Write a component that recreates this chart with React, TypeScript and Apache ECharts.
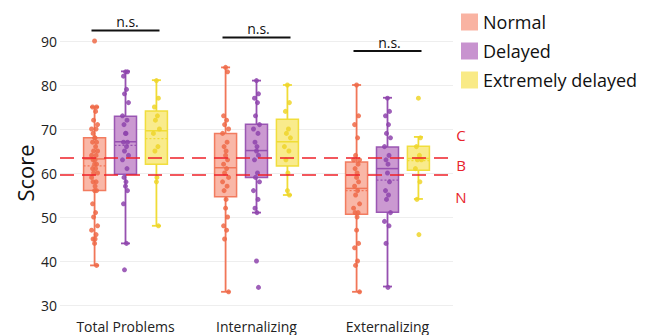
import React, { useEffect, useRef } from "react";
import * as echarts from "echarts";

const categories = ["Total Problems", "Internalizing", "Externalizing"];
const groups = ["Normal", "Delayed", "Extremely delayed"];

// per category: [min, Q1, median, Q3, max, mean]
const normalBox = [
  [39, 56, 63.2, 68, 75, 61.6],
  [33, 54.6, 61.2, 69, 84, null],
  [33, 50.6, 56.5, 62.5, 80, 56],
];
const delayedBox = [
  [44, 59.7, 67.1, 72.9, 83.1, 66.3],
  [51, 59, 65.1, 71.1, 81, null],
  [34.2, 51.1, 61, 65.9, 77.1, 58.4],
];
const extremeBox = [
  [48, 62, 69.6, 74.1, 81.1, 67.8],
  [55, 61.6, 67.1, 72.2, 80, null],
  [54.1, 60.6, 63.3, 66.1, 68.2, 62.8],
];

const normalPts = [
  [90, 75, 75, 74, 72, 71, 70, 70, 69, 68, 68, 67, 67, 66, 65, 65, 64, 64, 63, 63, 62, 62, 61, 61, 60, 60, 59, 58, 58, 57, 56, 56, 53, 51, 50, 48, 47, 46, 45, 45, 44, 39],
  [84, 83, 73, 72, 71, 70, 69, 67, 66, 65, 64, 63, 62, 61, 60, 59, 58, 57, 56, 54, 52, 50, 48, 47, 45, 33],
  [80, 73, 71, 68, 64, 63, 63, 62, 61, 60, 59, 58, 57, 56, 55, 53, 52, 51, 51, 50, 47, 44, 43, 40, 39, 33],
];
const delayedPts = [
  [83, 83, 82, 79, 78, 76, 73, 72, 71, 69, 69, 67, 67, 66, 65, 64, 63, 61, 59, 58, 57, 56, 53, 44, 38],
  [81, 78, 77, 76, 73, 71, 70, 69, 67, 66, 65, 64, 63, 60, 59, 58, 56, 54, 52, 51, 40, 34],
  [77, 74, 73, 71, 69, 68, 66, 64, 63, 62, 60, 58, 56, 55, 54, 51, 49, 48, 44, 34],
];
const extremePts = [
  [81, 77, 75, 73, 72, 70, 69, 66, 65, 59, 58, 48],
  [80, 76, 74, 70, 69, 68, 66, 65, 63, 60, 56, 55],
  [77, 68, 66, 64, 63, 63, 61, 58, 54, 46],
];

const yTicks = [30, 40, 50, 60, 70, 80, 90];
const cutoffs = [63.5, 59.5];
const cutoffLabels = [
  { text: "C", value: 68.6 },
  { text: "B", value: 61.8 },
  { text: "N", value: 54.5 },
];
const nsLevels = [92.4, 90.8, 87.7];

const jitterPx = [0, 2, -2, 1, -1, 3, -3, 1.5, -1.5, 0.5];

const strokes = ["#f17658", "#9650b0", "#f0dc36"];
const fills = ["#f9b3a2", "#c893cf", "#f9ea86"];
const ptColors = ["#ee6a48", "#8e44ad", "#eed52a"];

const GROUP_OFF = [-0.236, 0, 0.236];
const BOX_W = 0.168;
const PX = 1 / 131;

const FONT = "'Open Sans', 'Noto Sans', sans-serif";

export default function App() {
  const ref = useRef<HTMLDivElement>(null);
  useEffect(() => {
    if (!ref.current) return;
    const chart = echarts.init(ref.current, undefined, { renderer: "svg" });
    const boxes = [normalBox, delayedBox, extremeBox];
    const pts = [normalPts, delayedPts, extremePts];

    const boxSeries = groups.map((g, gi) => ({
      name: g,
      type: "custom",
      z: 2,
      itemStyle: { color: fills[gi] },
      encode: { x: 0, y: [1, 2, 3, 4, 5] },
      data: boxes[gi].map((b, ci) => [ci + 0.5 + GROUP_OFF[gi], ...b.map((v) => (v == null ? NaN : v))]),
      renderItem: (params: any, api: any) => {
        const x = api.value(0);
        const c = (v: number) => api.coord([x, v]);
        const w = api.size([BOX_W, 0])[0];
        const cx = c(api.value(3))[0];
        const yMin = c(api.value(1))[1];
        const yQ1 = c(api.value(2))[1];
        const yMed = c(api.value(3))[1];
        const yQ3 = c(api.value(4))[1];
        const yMax = c(api.value(5))[1];
        const mean = api.value(6);
        const st = { stroke: strokes[gi], lineWidth: 1.8 };
        const cap = 4.5;
        const children: any[] = [
          { type: "line", shape: { x1: cx, y1: yQ3, x2: cx, y2: yMax }, style: st },
          { type: "line", shape: { x1: cx, y1: yQ1, x2: cx, y2: yMin }, style: st },
          { type: "line", shape: { x1: cx - cap, y1: yMax, x2: cx + cap, y2: yMax }, style: st },
          { type: "line", shape: { x1: cx - cap, y1: yMin, x2: cx + cap, y2: yMin }, style: st },
          {
            type: "rect",
            shape: { x: cx - w / 2, y: yQ3, width: w, height: yQ1 - yQ3 },
            style: { fill: fills[gi], stroke: strokes[gi], lineWidth: 1.5, opacity: 0.95 },
          },
          { type: "line", shape: { x1: cx - w / 2, y1: yMed, x2: cx + w / 2, y2: yMed }, style: { stroke: strokes[gi], lineWidth: 1.5 } },
        ];
        if (!isNaN(mean)) {
          const yMean = c(mean)[1];
          children.push({
            type: "line",
            shape: { x1: cx - w / 2, y1: yMean, x2: cx + w / 2, y2: yMean },
            style: { stroke: strokes[gi], lineWidth: 1.2, lineDash: [2, 2] },
          });
        }
        return { type: "group", children };
      },
    }));

    const ptSeries = groups.map((g, gi) => ({
      name: g + " points",
      type: "scatter",
      z: 3,
      symbolSize: 5,
      itemStyle: { color: ptColors[gi], opacity: 0.85 },
      data: pts[gi].flatMap((list, ci) =>
        list.map((v, i) => [ci + 0.5 + GROUP_OFF[gi] + jitterPx[i % jitterPx.length] * PX, v])
      ),
    }));

    const nsSeries = {
      name: "ns",
      type: "custom",
      z: 10,
      clip: false,
      data: nsLevels.map((v, ci) => [ci + 0.5, v]),
      renderItem: (params: any, api: any) => {
        const p = api.coord([api.value(0), api.value(1)]);
        const hw = 34;
        return {
          type: "group",
          children: [
            { type: "line", shape: { x1: p[0] - hw, y1: p[1], x2: p[0] + hw, y2: p[1] }, style: { stroke: "#111", lineWidth: 2 } },
            {
              type: "text",
              x: p[0] + 2,
              y: p[1] - 2,
              style: { text: "n.s.", fill: "#111", font: `14px ${FONT}`, align: "center", verticalAlign: "bottom" },
            },
          ],
        };
      },
      markLine: {
        silent: true,
        symbol: "none",
        z: 10,
        label: { show: false },
        lineStyle: { color: "#ee2028", type: [14, 8], width: 1.6 },
        data: cutoffs.map((v) => ({ yAxis: v })),
      },
    };

    const labelSeries = {
      name: "cutoff labels",
      type: "custom",
      z: 10,
      clip: false,
      data: cutoffLabels.map((l) => [3, l.value]),
      renderItem: (params: any, api: any) => {
        const p = api.coord([api.value(0), api.value(1)]);
        return {
          type: "text",
          x: p[0] + 8,
          y: p[1],
          style: {
            text: cutoffLabels[params.dataIndex].text,
            fill: "#e8232b",
            font: `15px ${FONT}`,
            align: "center",
            verticalAlign: "middle",
          },
        };
      },
    };

    chart.setOption({
      animation: false,
      grid: { left: 60, right: 197, top: 41, bottom: 30 },
      legend: {
        orient: "vertical",
        left: 456,
        top: 8,
        itemWidth: 17,
        itemHeight: 17,
        itemGap: 11,
        icon: "rect",
        textStyle: { fontSize: 18, color: "#111", fontFamily: FONT },
        data: groups.map((g, gi) => ({ name: g, itemStyle: { color: fills[gi], borderWidth: 0 } })),
      },
      xAxis: [
        { type: "value", min: 0, max: 3, show: false },
        {
          type: "category",
          position: "bottom",
          data: categories,
          axisLine: { show: false },
          axisTick: { show: false },
          axisLabel: { fontSize: 14, color: "#222", margin: 14, fontFamily: FONT },
        },
      ],
      yAxis: {
        type: "value",
        min: yTicks[0],
        max: yTicks[yTicks.length - 1],
        interval: 10,
        name: "Score",
        nameLocation: "middle",
        nameGap: 24,
        nameMoveOverlap: false,
        nameTextStyle: { fontSize: 22, color: "#111", fontFamily: FONT },
        axisLine: { show: false },
        axisTick: { show: false },
        axisLabel: { fontSize: 14, color: "#222", margin: 3, fontFamily: FONT },
        splitLine: { lineStyle: { color: "#eeeeee" } },
      },
      series: [...boxSeries, ...ptSeries, nsSeries, labelSeries],
    });
    return () => chart.dispose();
  }, []);
  return (
    <div
      ref={ref}
      style={{ position: "fixed", left: 0, top: 0, width: 650, height: 335, background: "#fff" }}
    />
  );
}
